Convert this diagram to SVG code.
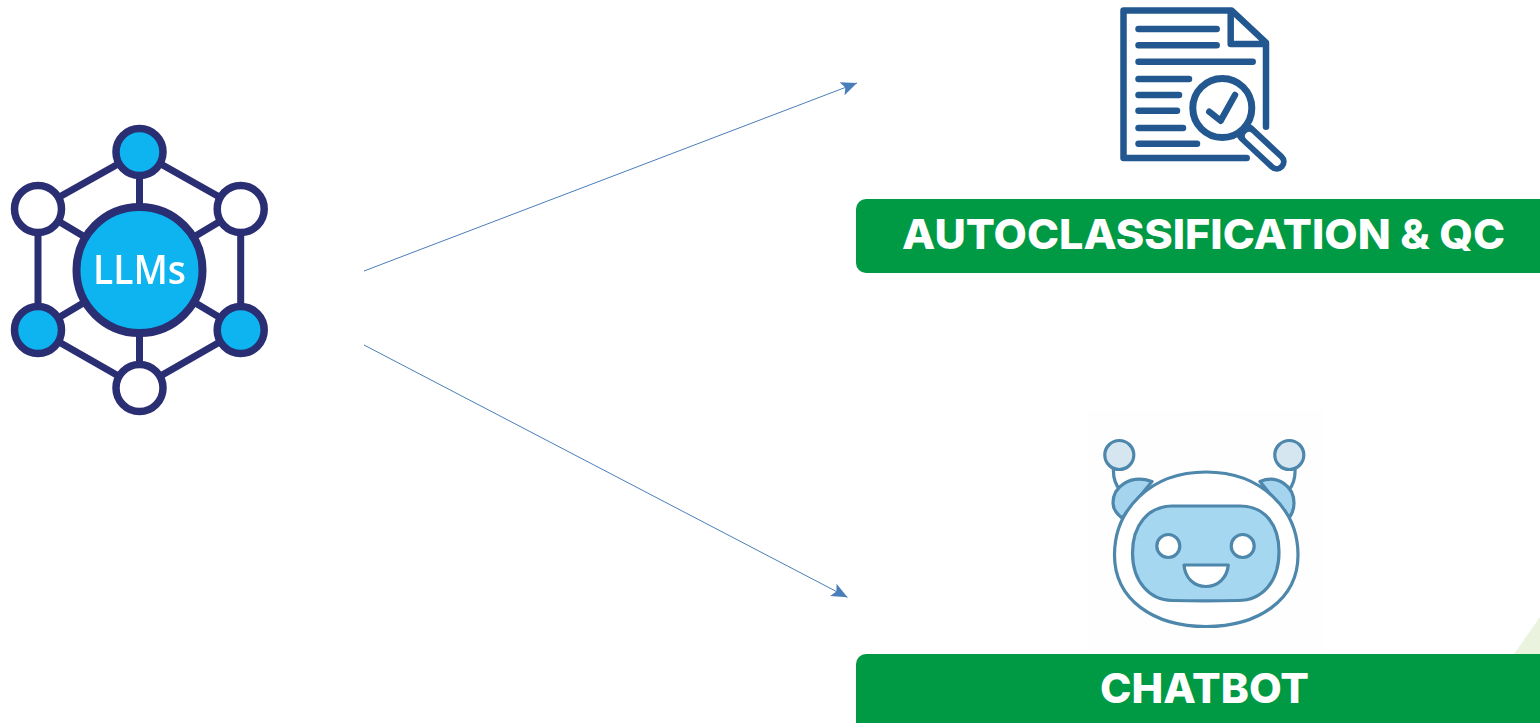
<svg xmlns="http://www.w3.org/2000/svg" width="1540" height="723" viewBox="0 0 1540 723">
<style>
.net{fill:none;stroke:#2b2d72;stroke-width:7}
.n{stroke:#2b2d72;stroke-width:7.5}
.blue{fill:#0cb4f0}
.wht{fill:#fff}
.doc{fill:none;stroke:#24598f;stroke-width:6.5;stroke-linecap:round;stroke-linejoin:round}
.bot{stroke:#4e87ac;stroke-width:3.2;stroke-linejoin:round}
.bar{fill:#009a44}
.lbl{font-family:"Inter","Liberation Sans",sans-serif;font-weight:800;font-size:41px;fill:#fff;text-anchor:middle}
.conn{fill:none;stroke:#4a7ebb;stroke-width:1}
</style>
<defs>
<filter id="soft" x="-15%" y="-15%" width="130%" height="130%"><feGaussianBlur stdDeviation="0.5"/></filter>
<marker id="arr" markerUnits="userSpaceOnUse" markerWidth="18" markerHeight="16" refX="16" refY="8" orient="auto">
<path d="M0,1 L16,8 L0,15 L3.5,8 Z" fill="#4a7ebb"/>
</marker>
</defs>
<rect width="1540" height="723" fill="#fff"/>
<path d="M1514,654 L1540,617 V654 Z" fill="#e9f3de"/>

<g id="llms" filter="url(#soft)">
<path class="net" d="M139.5,152 L240.7,209 V330 L139.5,388 L38,330 V209 Z M139.5,152 V388 M38,209 L240.7,330 M240.7,209 L38,330"/>
<circle class="n blue" cx="139.5" cy="152" r="23.5"/>
<circle class="n wht" cx="38" cy="209" r="23.5"/>
<circle class="n wht" cx="240.7" cy="209" r="23.5"/>
<circle class="n blue" cx="38" cy="330" r="23.5"/>
<circle class="n blue" cx="240.7" cy="330" r="23.5"/>
<circle class="n wht" cx="139.5" cy="388" r="23.5"/>
<circle class="blue" cx="139.5" cy="270" r="63" stroke="#2b2d72" stroke-width="8"/>
<text x="139.5" y="283.5" font-family="Open Sans, Noto Sans, sans-serif" font-weight="600" font-size="39" fill="#fff" text-anchor="middle" textLength="93" lengthAdjust="spacingAndGlyphs">LLMs</text>
</g>

<g id="connectors">
<path class="conn" marker-end="url(#arr)" d="M364,271 L857,83"/>
<path class="conn" marker-end="url(#arr)" d="M364,345 L847.5,597.3"/>
</g>

<g id="autoclassification">
<g filter="url(#soft)">
<path class="doc" d="M1246.7,158 H1123.5 V10.5 H1231.7 L1266,42.7 V126.7 M1230.7,10.5 V44 H1266"/>
<path class="doc" d="M1138.5,29 H1216.7 M1138.5,45.3 H1216.7 M1138.5,61.7 H1252.7 M1138.5,79 H1189 M1138.5,95 H1179 M1138.5,110.7 H1177 M1138.5,128 H1183 M1138.5,143.7 H1197"/>
<path d="M1246,133 L1276.7,161.7" fill="none" stroke="#24598f" stroke-width="20" stroke-linecap="round"/>
<path d="M1249,136 L1276.7,161.7" fill="none" stroke="#fff" stroke-width="8" stroke-linecap="round"/>
<circle cx="1222.3" cy="108" r="29.5" fill="#fff" stroke="#24598f" stroke-width="7"/>
<path class="doc" d="M1209.3,111.7 L1220.7,120.7 L1235,95"/>
</g>
<rect class="bar" x="856" y="199" width="700" height="74" rx="10"/>
<text class="lbl" x="1203.5" y="249" textLength="603" lengthAdjust="spacingAndGlyphs">AUTOCLASSIFICATION &amp; QC</text>
</g>

<g id="chatbot">
<rect x="1088" y="410" width="237" height="240" fill="#fefefe"/>
<g filter="url(#soft)">
<path class="bot" fill="none" d="M1113.5,469 C1113,478 1115,484 1120,490 M1295,469 C1295.5,478 1293.5,484 1289,490"/>
<circle class="bot" cx="1119.3" cy="455" r="14.5" fill="#d5e6f1"/>
<circle class="bot" cx="1289.3" cy="455" r="14.5" fill="#d5e6f1"/>
<path class="bot" fill="#a5d5ee" d="M1152,481.5 C1130,474 1113,487 1113,503 C1113,509 1117,514 1122,518 Z"/>
<path class="bot" fill="#a5d5ee" d="M1260,481.5 C1278,474 1294,487 1294,503 C1294,509 1292,514 1289,518 Z"/>
<path class="bot" fill="#fff" d="M1206,472 C1262,472 1298,510 1298,555 C1298,600 1258,626.5 1206,626.5 C1154,626.5 1114.5,600 1114.5,555 C1114.5,510 1150,472 1206,472 Z"/>
<path class="bot" fill="#a5d7f0" d="M1172,506 H1240 C1265,506 1279,525 1279,552 C1279,582 1262,600.5 1238,600.5 C1218,601 1192,601 1172,600.5 C1150,600 1132.5,582 1132.5,553 C1132.5,525 1148,506.5 1172,506 Z"/>
<circle class="bot" cx="1168.3" cy="546" r="11.5" fill="#fff"/>
<circle class="bot" cx="1242.7" cy="546" r="11.5" fill="#fff"/>
<path class="bot" fill="#fff" d="M1184,565 H1228.3 C1227,578 1218,586.5 1206,586.5 C1194,586.5 1185,578 1184,565 Z"/>
</g>
<rect class="bar" x="856" y="654" width="700" height="90" rx="10"/>
<text class="lbl" x="1204.5" y="703" textLength="209" lengthAdjust="spacingAndGlyphs">CHATBOT</text>
</g>
</svg>
